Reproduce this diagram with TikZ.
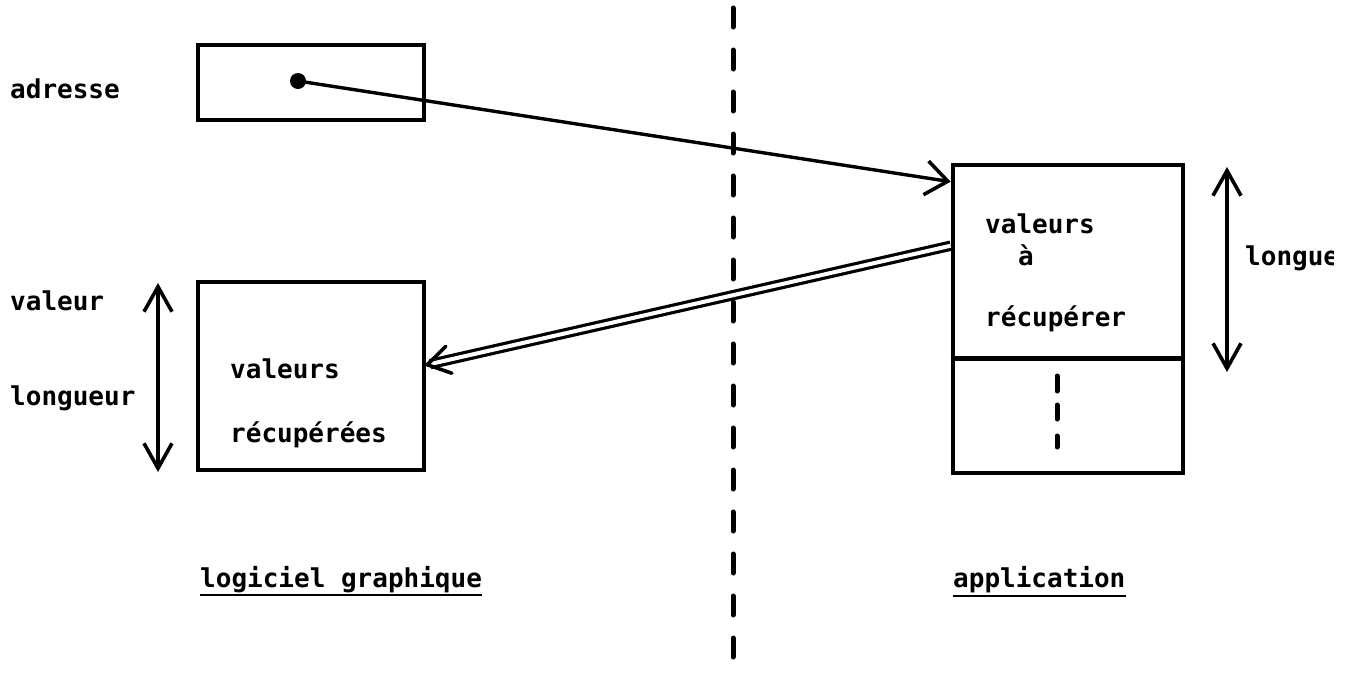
\documentclass[tikz,border=0pt]{standalone}
\usepackage{fontspec}
\setmainfont{DejaVu Sans Mono}[BoldFont={DejaVu Sans Mono Bold}]
\usetikzlibrary{arrows.meta,calc}
\begin{document}
\begin{tikzpicture}[x=1pt,y=-1pt,
  every node/.style={font=\fontsize{26}{28}\selectfont\bfseries, inner sep=0pt},
  txt/.style={anchor=base west},
  boxnode/.style={draw, line width=4.6pt, rectangle, inner sep=0pt},
  barb/.style={-{Straight Barb[length=22pt,width=34pt,line width=3.6pt]}},
  dblbarb/.style={{Straight Barb[length=25pt,width=28pt,line width=3.6pt]}-{Straight Barb[length=25pt,width=28pt,line width=3.6pt]}},
  conn/.style={line width=3.4pt},
  sepline/.style={line width=5pt, line cap=round, dash pattern=on 19pt off 23pt},
  uline/.style={line width=2.8pt}
]
\useasboundingbox (0,0) rectangle (1348,675);

% boxes
\node[boxnode, minimum width=226pt, minimum height=75pt] (abox) at (311,82.5) {};
\node[boxnode, minimum width=226pt, minimum height=188pt] (lbox) at (311,376) {};
\node[boxnode, minimum width=230pt, minimum height=308pt] (rbox) at (1068,319) {};
\draw[line width=4.6pt] ($(rbox.north west)!0.627!(rbox.south west)$) coordinate (rdl)
  -- ($(rbox.north east)!0.627!(rbox.south east)$) coordinate (rdr);

% pointer dot
\node[circle, fill, minimum size=16pt] (dot) at (298,81) {};

% separator between the two sides
\coordinate (septop) at (733,8);
\coordinate (sepbot) at (733,668);
\draw[sepline] (septop) -- (sepbot);

% labels on the left
\node[txt] (adr) at (10,98) {adresse};
\node[txt] (val) at (10,310) {valeur};
\node[txt] (lon) at (10,405) {longueur};

% texts in the boxes
\node[txt] (lv1) at (230,378) {valeurs};
\node[txt] (lv2) at (230,442) {récupérées};
\node[txt] (rv1) at (985,233) {valeurs};
\node[txt] (rv2) at (1018,265) {à};
\node[txt] (rv3) at (985,326) {récupérer};

% continuation marks
\coordinate (d1a) at (1057,376); \coordinate (d1b) at (1057,391);
\coordinate (d2a) at (1057,405); \coordinate (d2b) at (1057,419);
\coordinate (d3a) at (1057,436); \coordinate (d3b) at (1057,447);
\foreach \a/\b in {d1a/d1b,d2a/d2b,d3a/d3b}
  \draw[line width=5pt, line cap=round] (\a) -- (\b);

% length arrows
\coordinate (la) at (158,283); \coordinate (lb) at (158,472);
\draw[conn, dblbarb] (la) -- (lb);
\coordinate (ra) at (1227,167); \coordinate (rb) at (1227,372);
\draw[conn, dblbarb] (ra) -- (rb);
\begin{scope}
  \clip (1230,200) rectangle (1333,300);
  \node[txt] (rlon) at (1245,265) {longue};
\end{scope}

% address pointer
\coordinate (rin) at ($(rbox.north west)+(0,19)$);
\draw[conn, barb] (dot.center) -- (rin);

% copy of the values back to the graphics side
\coordinate (dstart) at ($(rbox.north west)+(0,83)$);
\coordinate (dtip) at ($(lbox.north east)+(1,85)$);
\draw[line width=3.2pt, double distance=4pt, shorten >=3pt] (dstart) -- (dtip);
\draw[line width=3.6pt, line cap=round]
  ($(dtip)!26pt!32:(dstart)$) -- (dtip) -- ($(dtip)!26pt!-32:(dstart)$);

% side captions
\node[txt] (cap1) at (200,587) {logiciel graphique};
\draw[uline] ($(cap1.base west)+(0,8)$) -- ($(cap1.base east)+(0,8)$);
\node[txt] (cap2) at (953,587) {application};
\draw[uline] ($(cap2.base west)+(0,9)$) -- ($(cap2.base east)+(0,9)$);
\end{tikzpicture}
\end{document}
